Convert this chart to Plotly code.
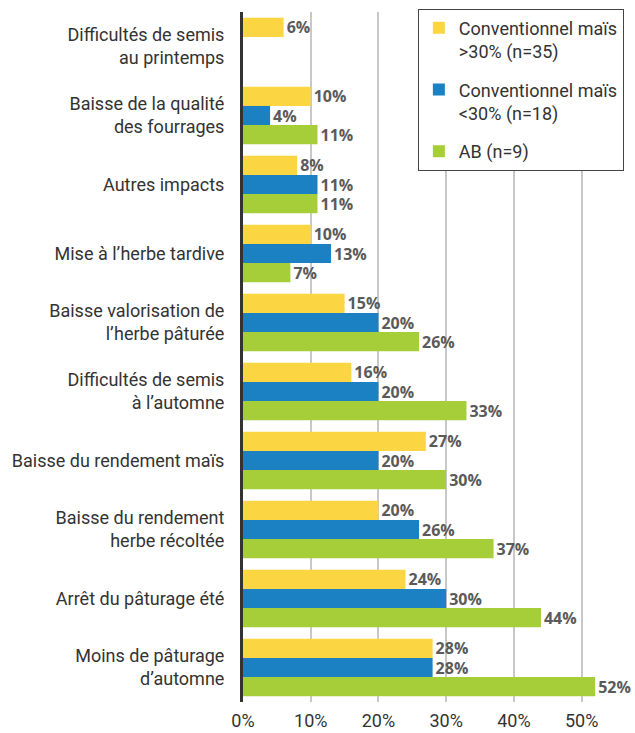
import plotly.graph_objects as go

categories = [
    "Difficultés de semis<br>au printemps",
    "Baisse de la qualité<br>des fourrages",
    "Autres impacts",
    "Mise à l’herbe tardive",
    "Baisse valorisation de<br>l’herbe pâturée",
    "Difficultés de semis<br>à l’automne",
    "Baisse du rendement maïs",
    "Baisse du rendement<br>herbe récoltée",
    "Arrêt du pâturage été",
    "Moins de pâturage<br>d’automne",
]
conv_sup30 = [6, 10, 8, 10, 15, 16, 27, 20, 24, 28]
conv_inf30 = [None, 4, 11, 13, 20, 20, 20, 26, 30, 28]
ab = [None, 11, 11, 7, 26, 33, 30, 37, 44, 52]
series_names = ["Conventionnel maïs<br>>30% (n=35)", "Conventionnel maïs<br><30% (n=18)", "AB (n=9)"]
colors = ["#FBD542", "#1C81C2", "#A6CE39"]
x_ticks = [0, 10, 20, 30, 40, 50]
x_ticklabels = ["0%", "10%", "20%", "30%", "40%", "50%"]

fig = go.Figure()
for i, (name, vals, col) in enumerate(zip(series_names, [conv_sup30, conv_inf30, ab], colors)):
    fig.add_trace(go.Bar(
        y=categories, x=vals, name=name, orientation="h",
        legendgroup=f"g{i}",
        marker=dict(color=col, line=dict(width=0)),
        text=[f"{v}%" if v is not None else "" for v in vals],
        textposition="outside", cliponaxis=False, constraintext="none",
        textfont=dict(family="Open Sans", size=16, color="#5a5a5a", weight="bold"),
    ))

fig.update_layout(
    width=635, height=733,
    margin=dict(l=243, r=6, t=12, b=31, autoexpand=False),
    barmode="group", bargap=0.17, bargroupgap=0,
    plot_bgcolor="white", paper_bgcolor="white",
    font=dict(family="Roboto", size=18, color="#333333"),
    showlegend=True,
    legend=dict(
        x=0.453, y=1.005, xanchor="left", yanchor="top",
        bgcolor="white", bordercolor="#444444", borderwidth=1,
        font=dict(family="Roboto", size=18, color="#333333"),
        valign="top", traceorder="grouped",
        itemwidth=30, tracegroupgap=12,
    ),
)
fig.update_xaxes(
    range=[0, 57], tickvals=x_ticks, ticktext=x_ticklabels, automargin=False,
    showgrid=True, gridcolor="#c8c8c8", gridwidth=1.5,
    zeroline=False, showline=False, ticks="", ticklabelstandoff=6,
    tickfont=dict(family="Roboto", size=18, color="#333333"),
)
fig.update_yaxes(
    autorange="reversed", showline=True, linecolor="#333333", linewidth=3,
    ticks="", ticklabelstandoff=12, automargin=False,
    tickfont=dict(family="Roboto", size=18, color="#333333"),
)
fig.write_html("out.html", config={"displayModeBar": False},
               post_script="document.body.style.margin='0';")
